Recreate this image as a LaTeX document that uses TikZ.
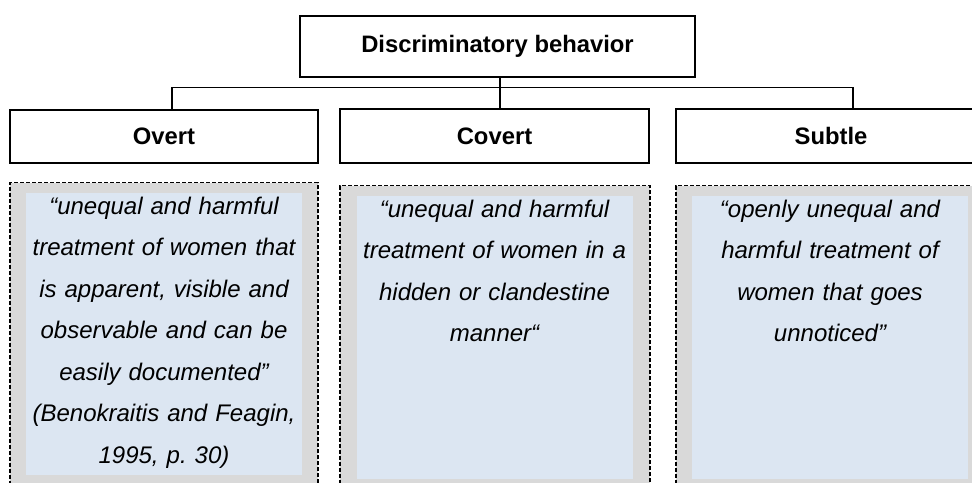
\documentclass[tikz,border=0pt]{standalone}
\usepackage{fontspec}
\setmainfont{Liberation Sans}
\frenchspacing
\definecolor{defgray}{HTML}{D9D9D9}
\definecolor{defblue}{HTML}{DCE6F2}

\begin{document}
\begin{tikzpicture}[x=1pt,y=-1pt,line width=1.3pt,
    catbox/.style={draw=black,inner sep=0pt,minimum height=54pt,font=\fontsize{23.8}{28}\selectfont\bfseries},
    defbox/.style={draw=black,fill=defgray,dash pattern=on 4pt off 2pt,anchor=north,minimum width=310pt,minimum height=310pt},
    deftext/.style={fill=defblue,anchor=north,text width=276pt,inner xsep=0pt,inner ysep=4pt,align=center,font=\fontsize{24}{41.5}\selectfont\itshape}]
                \useasboundingbox (0,0) rectangle (972,482);
                \clip (0,0) rectangle (972,482);
                % headings
                \node[catbox,minimum width=395pt,minimum height=61pt](disc)at(497.5, 46.5){Discriminatory behavior};
                \node[catbox,minimum width=308pt,minimum height=53pt](overt)at(164, 136.5){Overt};
                \node[catbox,minimum width=309pt](covert)at(494.5, 136){Covert};
                \node[catbox,minimum width=310pt](subtle)at(831, 136){Subtle};
                % definitions
                \node[defbox,minimum width=308pt](overtbg)at(164, 182){};
                \node[defbox](covertbg)at(495, 185){};
                \node[defbox](subtlebg)at(831, 185){};
                \node[deftext,text depth=257pt](overtdef)at(164, 192){“unequal and harmful\\treatment of women that\\is apparent, visible and\\observable and can be\\easily documented”\\(Benokraitis and Feagin,\\1995, p. 30)};
                \node[deftext,text depth=258pt](covertdef)at(494.5, 195){“unequal and harmful\\treatment of women in a\\hidden or clandestine\\manner“};
                \node[deftext,text depth=258pt](subtledef)at(830, 195){“openly unequal and\\harmful treatment of\\women that goes\\unnoticed”};
                % connectors
                \draw([xshift=2.5pt]disc.south) -- ([xshift=2.5pt]disc.south |- covert.north);
                \draw([xshift=8pt]overt.north) -- ++(0,-22) -| ([xshift=22pt]subtle.north);
            \end{tikzpicture}
\end{document}
